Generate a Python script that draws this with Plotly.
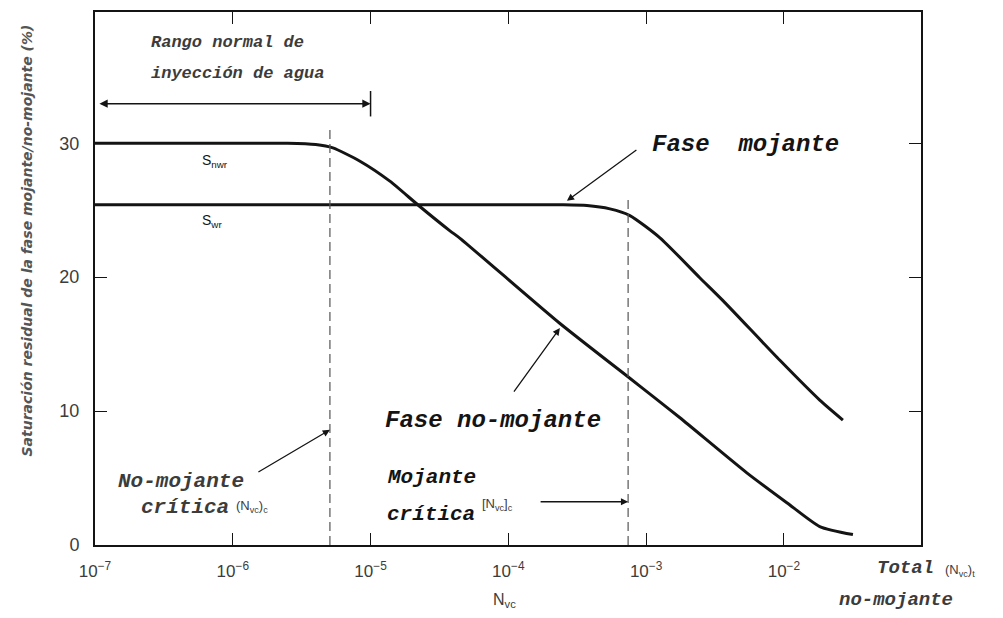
import numpy as np
import plotly.graph_objects as go

# Capillary number N_vc and residual saturation (%) of each phase
nvc_nonwetting = [1.0e-7, 1.0e-6, 2.5e-6, 4.0e-6, 5.33e-6, 8.38e-6, 1.38e-5, 2.21e-5, 3.77e-5,
                  4.46e-5, 2.37e-4, 7.62e-4, 1.12e-3, 1.76e-3, 5.38e-3, 1.05e-2, 1.82e-2, 3.17e-2]
sat_nonwetting = [30.0, 30.0, 30.0, 29.9, 29.65, 28.66, 27.17, 25.39, 23.46,
                  22.9, 16.54, 12.45, 11.1, 9.5, 5.39, 3.16, 1.38, 0.78]

nvc_wetting = [1.0e-7, 1.0e-5, 1.0e-4, 2.5e-4, 3.72e-4, 5.46e-4, 7.62e-4, 1.26e-3, 2.45e-3,
               3.61e-3, 9.35e-3, 1.82e-2, 2.68e-2]
sat_wetting = [25.4, 25.4, 25.4, 25.4, 25.35, 25.1, 24.6, 22.94, 19.96,
               18.25, 13.79, 10.82, 9.33]

# Critical capillary numbers (dashed markers) and their top ends
nvc_crit_nonwetting = 5.07e-6
top_crit_nonwetting = 31.3
nvc_crit_wetting = 7.4e-4
top_crit_wetting = 25.8

# Normal waterflood range
flood_range = [1.05e-7, 1.0e-5]
flood_level = 32.95
flood_tick = [32.0, 33.9]

# Axis ticks
x_tickvals = [1e-7, 1e-6, 1e-5, 1e-4, 1e-3, 1e-2]
x_ticktext = ["10<sup>−7</sup>", "10<sup>−6</sup>", "10<sup>−5</sup>",
              "10<sup>−4</sup>", "10<sup>−3</sup>", "10<sup>−2</sup>"]
y_tickvals = [0, 10, 20, 30]
y_ticktext = ["0", "10", "20", "30"]

INK = "#141414"
GREY = "#3c3c3c"
MONO = "Liberation Mono"
SANS = "Liberation Sans"

fig = go.Figure()

fig.add_trace(go.Scatter(x=nvc_nonwetting, y=sat_nonwetting, mode="lines",
                         line=dict(color=INK, width=3, shape="spline", smoothing=0.6),
                         hoverinfo="skip", showlegend=False))
fig.add_trace(go.Scatter(x=nvc_wetting, y=sat_wetting, mode="lines",
                         line=dict(color=INK, width=3, shape="spline", smoothing=0.6),
                         hoverinfo="skip", showlegend=False))

for xv, top in [(nvc_crit_nonwetting, top_crit_nonwetting), (nvc_crit_wetting, top_crit_wetting)]:
    fig.add_trace(go.Scatter(x=[xv, xv], y=[0, top], mode="lines",
                             line=dict(color="#555555", width=1.2, dash="9px,5px"),
                             hoverinfo="skip", showlegend=False))

# end stop of the waterflood range
fig.add_trace(go.Scatter(x=[flood_range[1], flood_range[1]], y=flood_tick, mode="lines",
                         line=dict(color=INK, width=1.5), hoverinfo="skip", showlegend=False))

L = np.log10

annotations = [
    # waterflood range double arrow
    dict(x=L(flood_range[1]), y=flood_level, ax=L(flood_range[0]), ay=flood_level,
         xref="x", yref="y", axref="x", ayref="y", text="", showarrow=True,
         arrowhead=2, arrowside="end+start", arrowsize=1.1, arrowwidth=1.5, arrowcolor=INK),
    dict(x=-6.61, y=37.5, xref="x", yref="y", xanchor="left", showarrow=False,
         text="<b><i>Rango normal de</i></b>", font=dict(family=MONO, size=17, color=GREY)),
    dict(x=-6.61, y=35.2, xref="x", yref="y", xanchor="left", showarrow=False,
         text="<b><i>inyección de agua</i></b>", font=dict(family=MONO, size=17, color=GREY)),
    # residual saturation labels
    dict(x=-6.24, y=28.7, xref="x", yref="y", xanchor="left", showarrow=False,
         text="S<sub>nwr</sub>", font=dict(family=SANS, size=14, color=INK)),
    dict(x=-6.24, y=24.2, xref="x", yref="y", xanchor="left", showarrow=False,
         text="S<sub>wr</sub>", font=dict(family=SANS, size=14, color=INK)),
    # phase labels with arrows
    dict(x=-2.276, y=29.9, xref="x", yref="y", showarrow=False,
         text="<b><i>Fase  mojante</i></b>", font=dict(family=MONO, size=24, color=INK)),
    dict(x=-3.575, y=25.7, xref="x", yref="y", ax=71, ay=-52, text="", showarrow=True,
         arrowhead=2, arrowsize=1.1, arrowwidth=1.3, arrowcolor=INK),
    dict(x=-4.112, y=9.3, xref="x", yref="y", showarrow=False,
         text="<b><i>Fase no-mojante</i></b>", font=dict(family=MONO, size=24, color=INK)),
    dict(x=-3.626, y=16.2, xref="x", yref="y", ax=-47, ay=65, text="", showarrow=True,
         arrowhead=2, arrowsize=1.1, arrowwidth=1.3, arrowcolor=INK),
    # critical capillary number labels
    dict(x=-6.845, y=4.72, xref="x", yref="y", xanchor="left", showarrow=False,
         text="<b><i>No-mojante</i></b>", font=dict(family=MONO, size=21, color=GREY)),
    dict(x=-6.68, y=2.79, xref="x", yref="y", xanchor="left", showarrow=False,
         text="<b><i>crítica</i></b>", font=dict(family=MONO, size=21, color=GREY)),
    dict(x=-5.99, y=2.9, xref="x", yref="y", xanchor="left", showarrow=False,
         text="(N<sub>vc</sub>)<sub>c</sub>", font=dict(family=SANS, size=13, color=GREY)),
    dict(x=L(nvc_crit_nonwetting), y=8.6, xref="x", yref="y", ax=-73, ay=43, text="",
         showarrow=True, arrowhead=2, arrowsize=1.1, arrowwidth=1.3, arrowcolor=INK),
    dict(x=-4.896, y=5.02, xref="x", yref="y", xanchor="left", showarrow=False,
         text="<b><i>Mojante</i></b>", font=dict(family=MONO, size=21, color=INK)),
    dict(x=-4.896, y=2.27, xref="x", yref="y", xanchor="left", showarrow=False,
         text="<b><i>crítica</i></b>", font=dict(family=MONO, size=21, color=INK)),
    dict(x=-4.206, y=3.05, xref="x", yref="y", xanchor="left", showarrow=False,
         text="[N<sub>vc</sub>]<sub>c</sub>", font=dict(family=SANS, size=13, color=GREY)),
    dict(x=L(nvc_crit_wetting), y=3.23, xref="x", yref="y", ax=-89, ay=0, text="",
         showarrow=True, arrowhead=2, arrowsize=1.1, arrowwidth=1.3, arrowcolor=INK),
    # outer axis labels
    dict(x=0.496, y=-0.125, xref="paper", yref="paper", showarrow=False,
         text="N<sub>vc</sub>", font=dict(family=SANS, size=16, color=GREY)),
    dict(x=0.944, y=-0.068, xref="paper", yref="paper", xanchor="left", showarrow=False,
         text="<b><i>Total</i></b>", font=dict(family=MONO, size=19, color=GREY)),
    dict(x=1.027, y=-0.068, xref="paper", yref="paper", xanchor="left", showarrow=False,
         text="(N<sub>vc</sub>)<sub>t</sub>", font=dict(family=SANS, size=13, color=GREY)),
    dict(x=0.898, y=-0.127, xref="paper", yref="paper", xanchor="left", showarrow=False,
         text="<b><i>no-mojante</i></b>", font=dict(family=MONO, size=19, color=GREY)),
    dict(x=-0.094, y=0.572, xref="paper", yref="paper", showarrow=False, textangle=-90,
         text="<b><i>Saturación residual de la fase mojante/no-mojante (%)</i></b>",
         font=dict(family="DejaVu Sans", size=14, color="#555555")),
]

fig.update_layout(
    width=1003, height=618,
    margin=dict(l=95, r=82, t=10, b=73),
    paper_bgcolor="white", plot_bgcolor="white",
    annotations=annotations,
    showlegend=False,
)
fig.update_xaxes(type="log", range=[-7, -1.005], tickvals=x_tickvals, ticktext=x_ticktext,
                 ticks="inside", ticklen=12, tickwidth=1.3, tickcolor=INK,
                 showline=True, linewidth=2, linecolor=INK, mirror="ticks",
                 showgrid=False, zeroline=False, ticklabelstandoff=10,
                 tickfont=dict(family=SANS, size=17, color=GREY))
fig.update_yaxes(range=[0, 39.8], tickvals=y_tickvals, ticktext=y_ticktext,
                 ticks="inside", ticklen=12, tickwidth=1.3, tickcolor=INK,
                 showline=True, linewidth=2, linecolor=INK, mirror="ticks",
                 showgrid=False, zeroline=False, ticklabelstandoff=10,
                 tickfont=dict(family=SANS, size=18, color=GREY))

fig.write_html("out.html")
